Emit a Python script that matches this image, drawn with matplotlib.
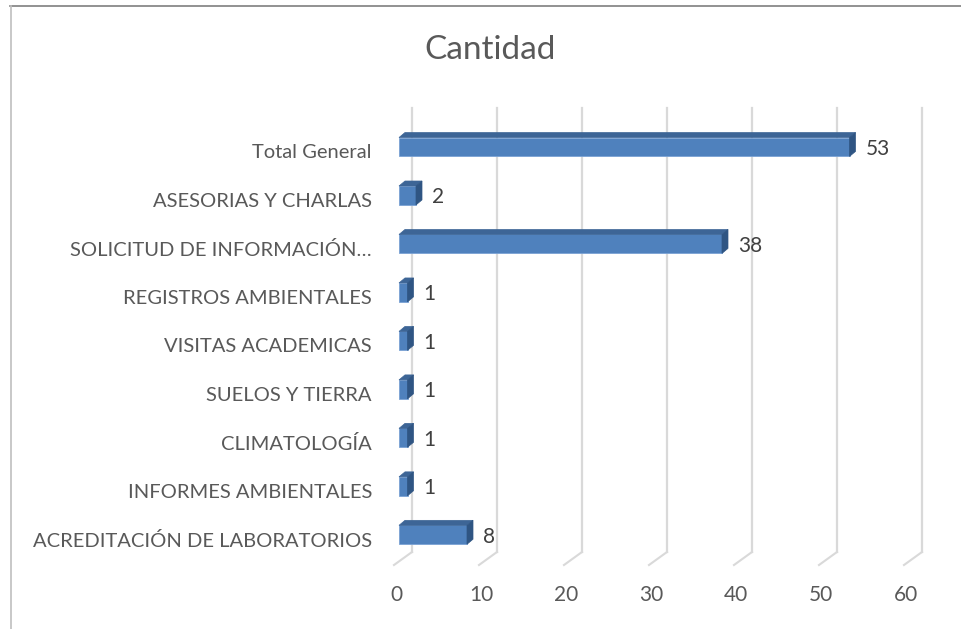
import matplotlib.pyplot as plt
from matplotlib.patches import Polygon
from matplotlib.transforms import ScaledTranslation
from matplotlib.lines import Line2D

categories = ["ACREDITACIÓN DE LABORATORIOS", "INFORMES AMBIENTALES", "CLIMATOLOGÍA",
              "SUELOS Y TIERRA", "VISITAS ACADEMICAS", "REGISTROS AMBIENTALES",
              "SOLICITUD DE INFORMACIÓN…", "ASESORIAS Y CHARLAS", "Total General"]
values = [8, 1, 1, 1, 1, 1, 38, 2, 53]
xticks = [0, 10, 20, 30, 40, 50, 60]

W, H, DPI = 961, 629, 100
plt.rcParams['font.family'] = ['Lato', 'DejaVu Sans']

fig = plt.figure(figsize=(W / DPI, H / DPI), dpi=DPI)
# axes placed in pixel terms (front plane of the 3D box)
x0, x1 = 394, 904
yb, yt = 565, 108.35
ax = fig.add_axes([x0 / W, (H - yb) / H, (x1 - x0) / W, (yb - yt) / H])
ax.set_xlim(0, 60)
ax.set_ylim(-0.52, 8.9)
ax.axis('off')


def px(dx, dy):
    # offset in pixels (dy up)
    return ScaledTranslation(dx / DPI, dy / DPI, fig.dpi_scale_trans)


grid_c = "#d9d9d9"
gdx, gdy = 18, 13
back = ax.transData + px(gdx, gdy)
for v in xticks:
    # back wall gridline
    ax.plot([v, v], [-0.52, 8.9 - 0.27], transform=back, color=grid_c, lw=1.6, clip_on=False)
    # floor diagonal from front to back
    p0 = ax.transData.transform((v, -0.52))
    fig.add_artist(Line2D([p0[0] / W, (p0[0] + gdx) / W], [p0[1] / H, (p0[1] + gdy) / H],
                          transform=fig.transFigure, color=grid_c, lw=1.5))
    ax.text(v, -0.52, str(v), transform=ax.transData + px(2, -20), ha='center', va='top',
            fontsize=15, color="#595959")

# 3D bars
bh = 0.39
bdx, bdy = 5, 5       # bar front face offset from front plane
sdx, sdy = 6, 5       # bar depth
front_c, top_c, side_c = "#4f81bd", "#3d6596", "#2f5583"
ftr = ax.transData + px(bdx, bdy)
for i, v in enumerate(values):
    ax.barh(i, v, height=bh, color=front_c, edgecolor="#7aa2d4", lw=0.6,
            transform=ftr, zorder=3)
    a = ax.transData.transform((0, i + bh / 2))
    b = ax.transData.transform((v, i + bh / 2))
    c = ax.transData.transform((v, i - bh / 2))
    top = [(a[0] + bdx, a[1] + bdy), (b[0] + bdx, b[1] + bdy),
           (b[0] + bdx + sdx, b[1] + bdy + sdy), (a[0] + bdx + sdx, a[1] + bdy + sdy)]
    side = [(b[0] + bdx, b[1] + bdy), (c[0] + bdx, c[1] + bdy),
            (c[0] + bdx + sdx, c[1] + bdy + sdy), (b[0] + bdx + sdx, b[1] + bdy + sdy)]
    for pts, col in ((top, top_c), (side, side_c)):
        fig.add_artist(Polygon([(x / W, y / H) for x, y in pts], closed=True,
                               transform=fig.transFigure, facecolor=col, edgecolor=col,
                               lw=0.5, zorder=4))
    ax.text(v, i, str(v), transform=ax.transData + px(bdx + sdx + 10, bdy - 2),
            ha='left', va='center', fontsize=15, color="#404040")
    ax.text(0, i, categories[i], transform=ax.transData + px(-22, -1),
            ha='right', va='center', fontsize=14.5, color="#595959")

fig.text(490 / W, 1 - 50 / H, "Cantidad", ha='center', va='center', fontsize=24,
         color="#595959")

# chart border (top and left)
fig.add_artist(Line2D([10 / W, 1], [1 - 5.5 / H, 1 - 5.5 / H], transform=fig.transFigure,
                      color="#7f7f7f", lw=1.2))
fig.add_artist(Line2D([10.5 / W, 10.5 / W], [0, 1 - 5.5 / H], transform=fig.transFigure,
                      color="#bfbfbf", lw=1.2))

fig.savefig("out.png", dpi=DPI, facecolor="white")
